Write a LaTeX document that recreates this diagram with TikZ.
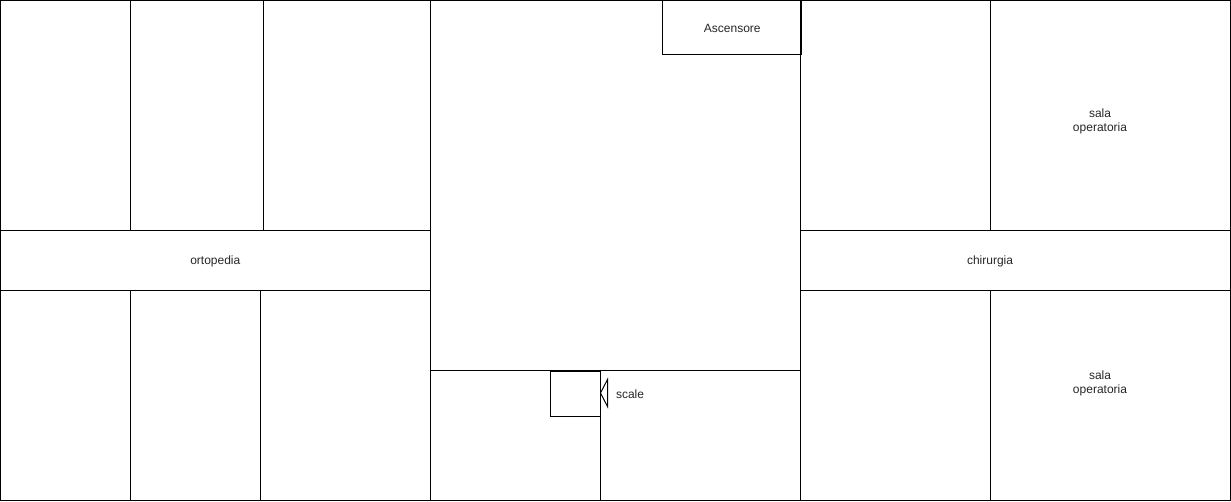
\documentclass[tikz,border=0pt]{standalone}
\usepackage{fontspec}
\setmainfont{Liberation Sans}
\begin{document}
\begin{tikzpicture}[x=1pt,y=-1pt,
  wall/.style={draw=black,line width=1pt},
  lbl/.style={font=\fontsize{12}{14}\selectfont,text=black!85,align=center,inner sep=0pt}]
\useasboundingbox (0,0) rectangle (1231,502);
% left wing
\draw[wall] (0.5,0.5) rectangle (130.5,230.5);
\draw[wall] (130.5,0.5) rectangle (263.5,230.5);
\draw[wall] (263.5,0.5) rectangle (430.5,230.5);
\draw[wall] (0.5,230.5) rectangle (430.5,290.5);
\draw[wall] (0.5,290.5) rectangle (130.5,500.5);
\draw[wall] (130.5,290.5) rectangle (260.5,500.5);
\draw[wall] (260.5,290.5) rectangle (430.5,500.5);
% centre
\draw[wall] (430.5,0.5) rectangle (800.5,370.5);
\draw[wall] (430.5,370.5) rectangle (600.5,500.5);
\draw[wall] (600.5,370.5) rectangle (800.5,500.5);
\draw[wall,fill=white] (550.5,371.5) rectangle (600.5,416.5);
\draw[wall,fill=white] (662.5,0.5) rectangle (801.5,54.5);
\draw[wall,line join=miter] (600.5,393) -- (607.5,379.5) -- (607.5,406.5) -- cycle;
% right wing
\draw[wall] (800.5,0.5) rectangle (990.5,230.5);
\draw[wall] (990.5,0.5) rectangle (1230.5,230.5);
\draw[wall] (800.5,230.5) rectangle (1230.5,290.5);
\draw[wall] (800.5,290.5) rectangle (990.5,500.5);
\draw[wall] (990.5,290.5) rectangle (1230.5,500.5);
% labels
\node[lbl] (ortopedia) at (215.3,261.7) {ortopedia};
\node[lbl] (chirurgia) at (990,261.7) {chirurgia};
\node[lbl] (sala1) at (1100,121.5) {sala\\operatoria};
\node[lbl] (sala2) at (1100,383.5) {sala\\operatoria};
\node[lbl] (ascensore) at (732.3,28.5) {Ascensore};
\node[lbl] (scale) at (630,394.5) {scale};
\end{tikzpicture}
\end{document}
